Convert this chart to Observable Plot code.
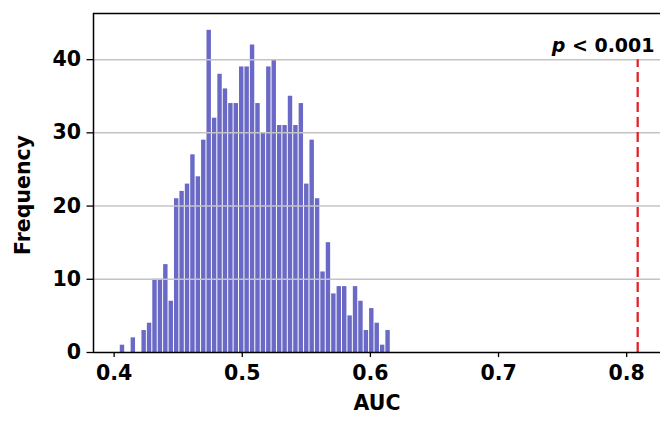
<!DOCTYPE html>
<html><head><meta charset="utf-8">
<script src="https://cdn.jsdelivr.net/npm/d3@7"></script>
<script src="https://cdn.jsdelivr.net/npm/@observablehq/plot@0.6"></script>
<style>body{margin:0;background:#fff} #chart{width:660px;height:421px}</style>
</head><body><div id="chart"></div>
<script>
// Histogram of permuted AUC values (50 bins)
const binStart = 0.4044;
const binWidth = 0.00423;
const counts = [1,0,2,0,3,4,10,10,12,7,21,22,23,27,24,29,44,32,38,36,34,34,39,39,42,34,30,39,40,31,31,35,31,34,23,29,21,11,15,8,9,9,5,9,7,3,6,4,1,3];
const xTicks = [0.4, 0.5, 0.6, 0.7, 0.8];
const yTicks = [0, 10, 20, 30, 40];
const gridValues = [10, 20, 30, 40];
const observedAUC = [0.8086];
const observedTop = 40;
const annotation = [{x: 0.7816, y: 41, label: "p < 0.001"}];
const xDomain = [0.3839, 0.8264];
const yDomain = [0, 46.3];

const bins = counts.map((c, i) => ({x1: binStart + i * binWidth, x2: binStart + (i + 1) * binWidth, count: c}));

const chart = Plot.plot({
  width: 660, height: 421,
  marginLeft: 93, marginRight: 0, marginTop: 13, marginBottom: 69,
  style: {fontFamily: "'DejaVu Sans', sans-serif", fontSize: "20.5px", fontWeight: "bold", color: "#000", background: "#fff"},
  x: {domain: xDomain},
  y: {domain: yDomain},
  marks: [
    Plot.rectY(bins, {x1: "x1", x2: "x2", y: "count", fill: "#6a6ac6", insetLeft: 0.5, insetRight: 0.5}),
    Plot.ruleY(gridValues, {stroke: "#c4c4c4", strokeWidth: 1.5}),
    Plot.ruleX(observedAUC, {y1: 0, y2: observedTop, stroke: "#e0242a", strokeWidth: 2.3, strokeDasharray: "10,5"}),
    Plot.text(annotation, {x: "x", y: "y", text: "label", textAnchor: "middle", lineAnchor: "bottom", fontSize: 19}),
    Plot.axisX({ticks: xTicks, tickFormat: d => d.toFixed(1), tickSize: 5, tickPadding: 8, label: null, strokeWidth: 1.3}),
    Plot.axisY({ticks: yTicks, tickSize: 6.5, tickPadding: 6, label: null, strokeWidth: 1.3}),
    Plot.ruleY([yDomain[0]], {stroke: "#000", strokeWidth: 1.5}),
    Plot.ruleY([yDomain[1]], {stroke: "#000", strokeWidth: 1.5}),
    Plot.ruleX([xDomain[0]], {stroke: "#000", strokeWidth: 1.5}),
    Plot.text(["AUC"], {frameAnchor: "bottom", dy: 51, lineAnchor: "middle", textAnchor: "middle", fontSize: 20.5}),
    Plot.text(["Frequency"], {frameAnchor: "left", dx: -70, dy: 12, rotate: -90, textAnchor: "middle", lineAnchor: "middle", fontSize: 20.5})
  ]
});
document.getElementById("chart").appendChild(chart);
chart.querySelectorAll("text").forEach(t => {
  if (t.textContent === "p < 0.001") {
    t.textContent = "";
    const a = document.createElementNS("http://www.w3.org/2000/svg", "tspan");
    a.setAttribute("font-style", "italic");
    a.textContent = "p";
    const b = document.createElementNS("http://www.w3.org/2000/svg", "tspan");
    b.textContent = " < 0.001";
    t.appendChild(a); t.appendChild(b);
  }
});
</script>
</body></html>
